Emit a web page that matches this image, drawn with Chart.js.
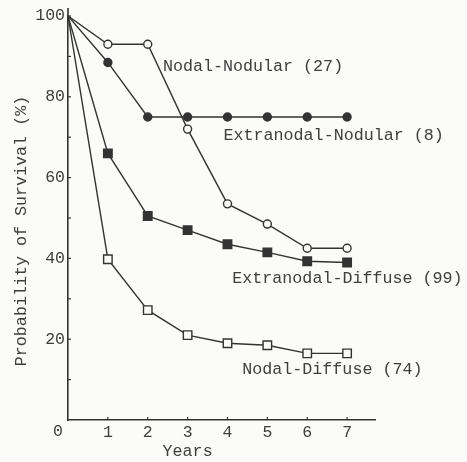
<!DOCTYPE html>
<html>
<head>
<meta charset="utf-8">
<script src="https://cdn.jsdelivr.net/npm/chart.js@4/dist/chart.umd.min.js"></script>
<style>
  html, body { margin: 0; padding: 0; background: #fbfbfa; }
  #wrap { width: 467px; height: 462px; }
</style>
</head>
<body>
<div id="wrap"><canvas id="survival"></canvas></div>
<script>
// survival curves, years 0..7
const years = [0, 1, 2, 3, 4, 5, 6, 7];
const nodalNodular = [100, 93, 93, 72, 53.5, 48.5, 42.5, 42.5];
const extranodalNodular = [100, 88.5, 75, 75, 75, 75, 75, 75];
const extranodalDiffuse = [100, 66, 50.5, 47, 43.5, 41.5, 39.3, 39];
const nodalDiffuse = [100, 39.8, 27.2, 21, 19, 18.5, 16.5, 16.5];
const percentTicks = [0, 10, 20, 30, 40, 50, 60, 70, 80, 90, 100];

// curve name labels, anchored (left edge, middle) in data units
const curveLabels = [
  { text: 'Nodal-Nodular (27)', x: 2.38, y: 87.4 },
  { text: 'Extranodal-Nodular (8)', x: 3.9, y: 70.5 },
  { text: 'Extranodal-Diffuse (99)', x: 4.12, y: 34.9 },
  { text: 'Nodal-Diffuse (74)', x: 4.37, y: 12.6 }
];

const ink = '#333';
const textInk = '#3e3e3e';
const mono = '"Liberation Mono", "Courier New", monospace';

function series(label, values, style, fill) {
  return {
    label: label,
    data: years.map((y, i) => ({ x: y, y: values[i] })),
    borderColor: ink,
    borderWidth: 1.4,
    pointStyle: style,
    pointRadius: values.map((v, i) => i === 0 ? 0 : (style === 'rect' ? 6 : 4)),
    pointBackgroundColor: fill,
    pointBorderColor: ink,
    pointBorderWidth: 1.4,
    tension: 0
  };
}

const decorations = {
  id: 'decorations',
  afterDraw(chart) {
    const ctx = chart.ctx;
    const xs = chart.scales.x, ys = chart.scales.y;
    const area = chart.chartArea;
    ctx.save();
    ctx.strokeStyle = ink;
    // y axis runs a little past 100
    ctx.lineWidth = 1.6;
    ctx.beginPath();
    ctx.moveTo(area.left, area.top);
    ctx.lineTo(area.left, area.top - 8);
    ctx.stroke();
    // tick marks pointing into the plot
    ctx.lineWidth = 1.2;
    ys.ticks.forEach(t => {
      if (t.value === 0) return;
      const py = ys.getPixelForValue(t.value);
      ctx.beginPath();
      ctx.moveTo(area.left, py);
      ctx.lineTo(area.left + 3, py);
      ctx.stroke();
    });
    xs.ticks.forEach(t => {
      if (t.value === 0) return;
      const px = xs.getPixelForValue(t.value);
      ctx.beginPath();
      ctx.moveTo(px, area.bottom);
      ctx.lineTo(px, area.bottom - 3);
      ctx.stroke();
    });
    ctx.fillStyle = textInk;
    ctx.font = '16.5px ' + mono;
    // shared origin label sits left of the corner
    ctx.textAlign = 'center';
    ctx.textBaseline = 'top';
    ctx.fillText('0', area.left - 10, area.bottom + 3);
    // curve names
    ctx.font = '16.7px ' + mono;
    ctx.textAlign = 'left';
    ctx.textBaseline = 'middle';
    curveLabels.forEach(l => {
      ctx.fillText(l.text, xs.getPixelForValue(l.x), ys.getPixelForValue(l.y));
    });
    // axis titles
    ctx.textAlign = 'center';
    ctx.fillText('Years', xs.getPixelForValue(3), 452);
    ctx.translate(22, 231);
    ctx.rotate(-Math.PI / 2);
    ctx.fillText('Probability of Survival (%)', 0, 0);
    ctx.restore();
  }
};

new Chart(document.getElementById('survival'), {
  type: 'line',
  data: {
    datasets: [
      series('Nodal-Nodular (27)', nodalNodular, 'circle', '#fbfbfa'),
      series('Extranodal-Nodular (8)', extranodalNodular, 'circle', ink),
      series('Extranodal-Diffuse (99)', extranodalDiffuse, 'rect', ink),
      series('Nodal-Diffuse (74)', nodalDiffuse, 'rect', '#fbfbfa')
    ]
  },
  options: {
    responsive: true,
    maintainAspectRatio: false,
    animation: false,
    layout: { padding: { left: 0, top: 16, right: 92, bottom: 0 } },
    plugins: { legend: { display: false }, tooltip: { enabled: false } },
    scales: {
      x: {
        type: 'linear',
        min: 0,
        max: 7.7,
        afterBuildTicks: axis => { axis.ticks = years.map(v => ({ value: v })); },
        afterFit: axis => { axis.height = 42; },
        ticks: {
          padding: 3,
          color: textInk,
          font: { family: mono, size: 16.5 },
          callback: v => v === 0 ? '' : v
        },
        grid: { display: false, drawTicks: false },
        border: { display: true, color: ink, width: 1.6 }
      },
      y: {
        min: 0,
        max: 100,
        afterBuildTicks: axis => { axis.ticks = percentTicks.map(v => ({ value: v })); },
        afterFit: axis => { axis.width = 68; },
        ticks: {
          padding: 3,
          color: textInk,
          font: { family: mono, size: 16.5 },
          callback: v => (v > 0 && v % 20 === 0) ? v : ''
        },
        grid: { display: false, drawTicks: false },
        border: { display: true, color: ink, width: 1.6 }
      }
    }
  },
  plugins: [decorations]
});
</script>
</body>
</html>
